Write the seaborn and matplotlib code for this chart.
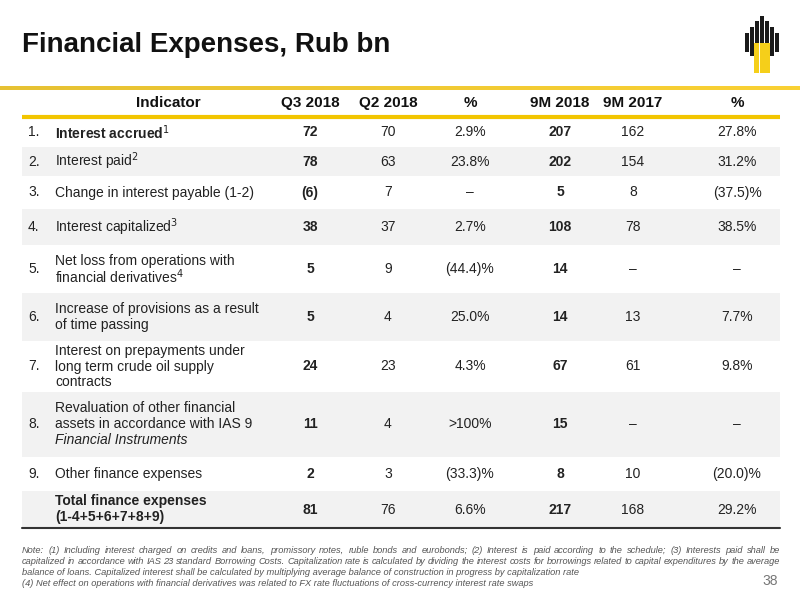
import matplotlib
matplotlib.use("Agg")
import matplotlib.pyplot as plt
import seaborn as sns
import numpy as np
from matplotlib.patches import Rectangle

sns.set_style("white")
plt.rcParams['font.family'] = ['Liberation Sans', 'DejaVu Sans']

title = "Financial Expenses, Rub bn"
headers = ["Indicator", "Q3 2018", "Q2 2018", "%", "9M 2018", "9M 2017", "%"]
row_nums = ["1.", "2.", "3.", "4.", "5.", "6.", "7.", "8.", "9.", ""]
row_labels = [
    ["Interest accrued$^1$"],
    ["Interest paid$^2$"],
    ["Change in interest payable (1-2)"],
    ["Interest capitalized$^3$"],
    ["Net loss from operations with", "financial derivatives$^4$"],
    ["Increase of provisions as a result", "of time passing"],
    ["Interest on prepayments under", "long term crude oil supply", "contracts"],
    ["Revaluation of other financial", "assets in accordance with IAS 9", "Financial Instruments"],
    ["Other finance expenses"],
    ["Total finance expenses", "(1-4+5+6+7+8+9)"],
]
q3_2018 = ["72", "78", "(6)", "38", "5", "5", "24", "11", "2", "81"]
q2_2018 = ["70", "63", "7", "37", "9", "4", "23", "4", "3", "76"]
pct_q = ["2.9%", "23.8%", "–", "2.7%", "(44.4)%", "25.0%", "4.3%", ">100%", "(33.3)%", "6.6%"]
m9_2018 = ["207", "202", "5", "108", "14", "14", "67", "15", "8", "217"]
m9_2017 = ["162", "154", "8", "78", "–", "13", "61", "–", "10", "168"]
pct_m = ["27.8%", "31.2%", "(37.5)%", "38.5%", "–", "7.7%", "9.8%", "–", "(20.0)%", "29.2%"]
notes = [
    "Note: (1) Including interest charged on credits and loans, promissory notes, ruble bonds and eurobonds; (2) Interest is paid according to the schedule; (3) Interests paid shall be",
    "capitalized in accordance with IAS 23 standard Borrowing Costs. Capitalization rate is calculated by dividing the interest costs for borrowings related to capital expenditures by the average",
    "balance of loans. Capitalized interest shall be calculated by multiplying average balance of construction in progress by capitalization rate",
    "(4) Net effect on operations with financial derivatives was related to FX rate fluctuations of cross-currency interest rate swaps",
]
page = "38"

fig = plt.figure(figsize=(8, 6), dpi=100)
ax = fig.add_axes([0, 0, 1, 1])
ax.set_xlim(0, 800); ax.set_ylim(600, 0); ax.axis("off")

ax.text(22, 45, title, fontsize=20, fontweight="bold", va="center", color="#111111")
# gold rule
grad = np.linspace(0.4, 1, 200).reshape(1, -1)
ax.imshow(np.dstack([0.85+0.13*grad, 0.72+0.1*grad, 0.2+0.0*grad]), extent=(0, 800, 90, 86), aspect="auto")
# logo
tops = [33, 27, 21, 16, 21, 27, 33]
bots = [52, 56, 58, 60, 58, 56, 52]
for k in range(7):
    ax.add_patch(Rectangle((745 + k * 5, tops[k]), 4.2, bots[k] - tops[k], color="#1a1a1a", lw=0))
for k in range(3):
    ax.add_patch(Rectangle((754 + k * 5.5, 43), 5.0, 30, color="#f5cf1a", lw=0))
ax.set_xlim(0, 800); ax.set_ylim(600, 0)

# header
hx = [168, 310, 388, 470, 560, 633, 737]
for x, h in zip(hx, headers):
    ax.text(x, 103, h, ha="center", va="center", fontsize=11, fontweight="bold", color="#111111")
ax.plot([22, 780], [117, 117], color="#f2c500", lw=3, solid_capstyle="butt")

bounds = [118, 147, 176, 209, 245, 293, 341, 392, 457, 491, 528]
for i in range(10):
    y0, y1 = bounds[i], bounds[i+1]
    yc = (y0 + y1) / 2
    if i % 2 == 1:
        ax.add_patch(Rectangle((22, y0), 758, y1 - y0, color="#f2f2f2", lw=0))
    bold_label = i in (0, 9)
    ax.text(28, yc, row_nums[i], va="center", fontsize=10, color="#222222")
    lines = row_labels[i]
    n = len(lines)
    for k, ln in enumerate(lines):
        yy = yc + (k - (n - 1) / 2) * 16
        style = "italic" if (i == 7 and k == 2) else "normal"
        ax.text(55, yy, ln, va="center", fontsize=10, color="#222222",
                fontweight="bold" if bold_label else "normal", fontstyle=style)
    vals = [q3_2018[i], q2_2018[i], pct_q[i], m9_2018[i], m9_2017[i], pct_m[i]]
    for j, v in enumerate(vals):
        ax.text(hx[j+1], yc, v, ha="center", va="center", fontsize=10, color="#222222",
                fontweight="bold" if j in (0, 3) else "normal")
ax.plot([22, 780], [528, 528], color="#333333", lw=1.5)

# justified notes
fig.canvas.draw()
r = fig.canvas.get_renderer()
for k, ln in enumerate(notes):
    y = 553 + k * 11
    if k < 2:
        words = ln.split(" ")
        objs = [ax.text(0, y, w, fontsize=6.7, fontstyle="italic", color="#555555", va="baseline") for w in words]
        widths = [o.get_window_extent(r).width for o in objs]
        gap = (780 - 22 - sum(widths)) / (len(words) - 1)
        x = 22
        for o, w in zip(objs, widths):
            o.set_x(x)
            x += w + gap
    else:
        ax.text(22, y, ln, fontsize=6.7, fontstyle="italic", color="#555555", va="baseline")
ax.text(778, 581, page, fontsize=10, color="#777777", ha="right", va="center")

fig.savefig("out.png", dpi=100)
